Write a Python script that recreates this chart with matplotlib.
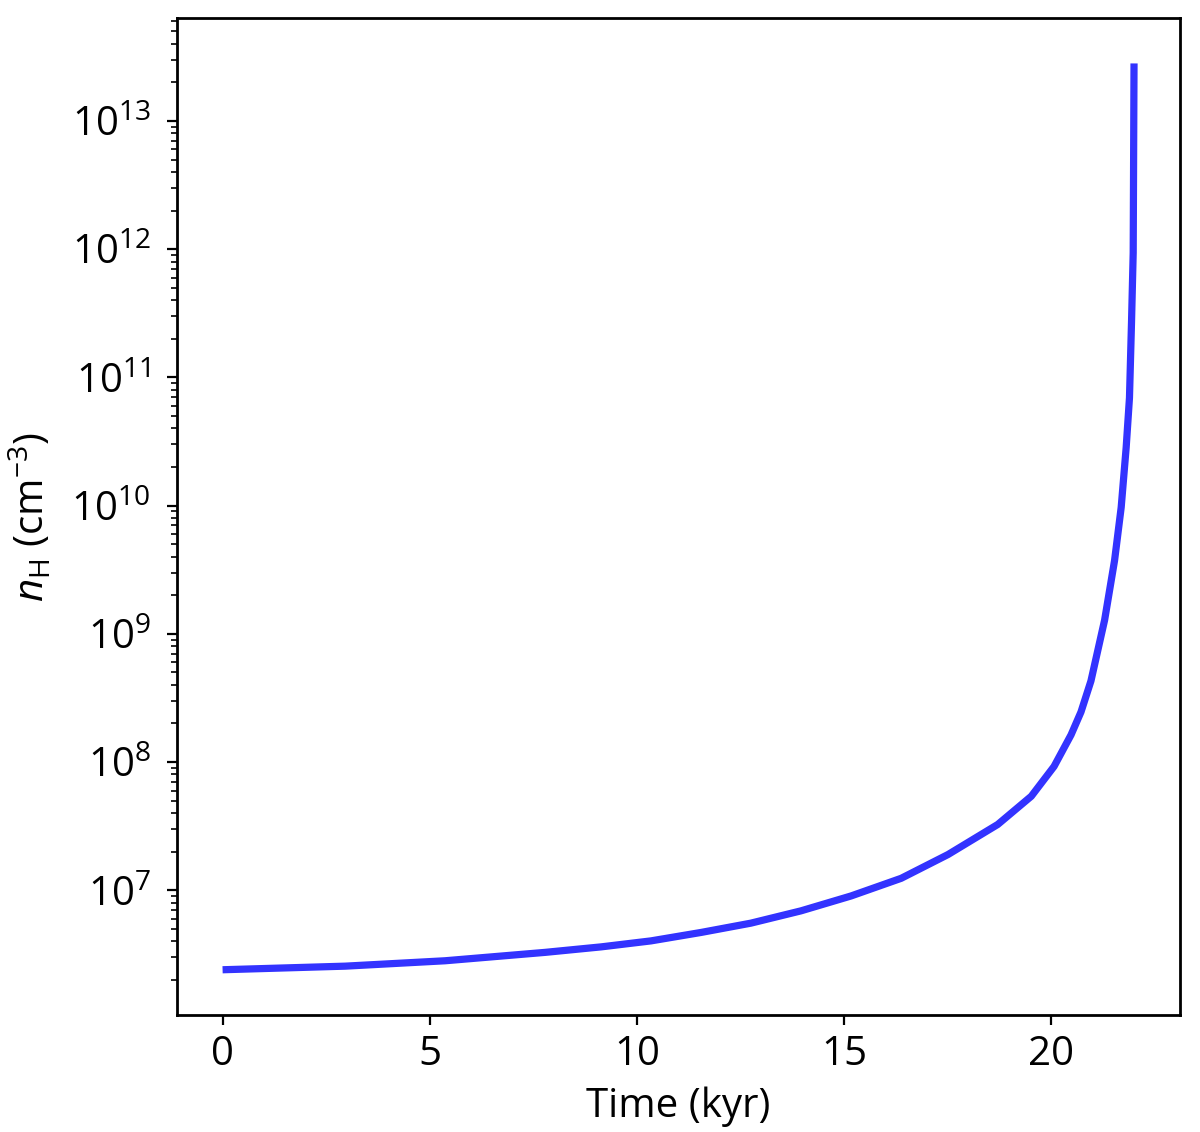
import matplotlib
matplotlib.use("Agg")
import matplotlib.pyplot as plt

# hydrogen number density vs time
time_kyr = [0.0, 2.96, 5.37, 7.79, 9.14, 10.34, 11.55, 12.75, 13.96, 15.17,
            16.38, 17.51, 18.71, 19.52, 20.07, 20.48, 20.72, 20.96, 21.29,
            21.53, 21.69, 21.81, 21.89, 21.94, 21.98, 22.00]
n_h = [2.40e6, 2.56e6, 2.82e6, 3.28e6, 3.62e6, 4.03e6, 4.69e6, 5.54e6,
       6.91e6, 9.03e6, 1.24e7, 1.90e7, 3.26e7, 5.41e7, 9.25e7, 1.63e8,
       2.46e8, 4.29e8, 1.28e9, 3.73e9, 9.69e9, 2.83e10, 6.93e10, 2.74e11,
       9.40e11, 2.81e13]

plt.rcParams["font.family"] = ["Open Sans", "DejaVu Sans"]
plt.rcParams["mathtext.fontset"] = "custom"
plt.rcParams["mathtext.rm"] = "Open Sans"
plt.rcParams["mathtext.it"] = "Open Sans:italic"
plt.rcParams["mathtext.bf"] = "Open Sans:bold"

fig = plt.figure(figsize=(6.0, 5.66), dpi=200)
ax = fig.add_axes([0.1475, 0.1033, 0.8355, 0.8807])
ax.plot(time_kyr, n_h, color="blue", alpha=0.8, lw=2.6, solid_capstyle="butt")
ax.set_yscale("log")
ax.set_xlabel("Time (kyr)", fontsize=14.5)
ax.set_ylabel(r"$n_{\rm H}$ (cm$^{-3}$)", fontsize=14.5, labelpad=6)
ax.tick_params(labelsize=14.5)
ax.tick_params(axis="y", which="major", pad=6)
for s in ax.spines.values():
    s.set_linewidth(1.0)

fig.savefig("out.png", dpi=200, facecolor="white")
